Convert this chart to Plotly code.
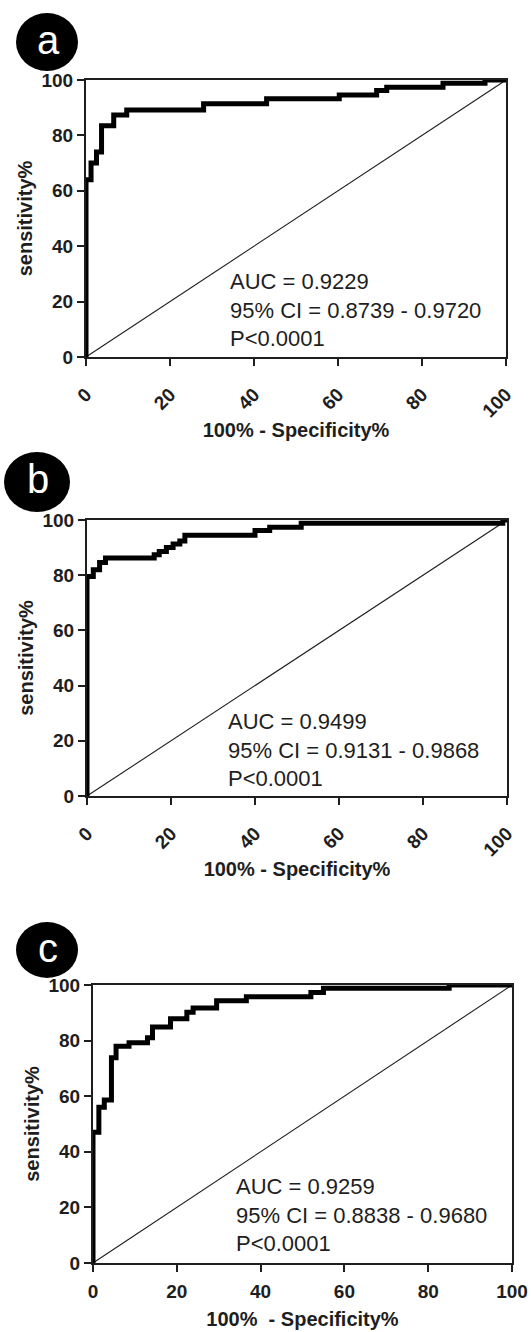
import plotly.graph_objects as go

# ---------------- data (ROC vertices: 100% - specificity, sensitivity) -------------
fpr_a = [0, 0, 1.2, 2.5, 3.7, 6.6, 9.7, 28.0, 43.0, 60.3, 69.2, 71.6, 85.0, 95.0, 100]
tpr_a = [0, 64, 70, 74, 83.5, 87.4, 89.2, 91.4, 93.2, 94.6, 96.2, 97.4, 98.8, 100, 100]

fpr_b = [0, 0, 1.5, 3.0, 4.4, 16.0, 17.2, 18.9, 20.5, 22.1, 23.3, 40.0, 43.5, 51.0, 99.0, 100]
tpr_b = [0, 79.5, 82, 84.6, 86.2, 87.4, 88.6, 90.0, 91.3, 92.4, 94.5, 96.2, 97.4, 98.8, 100, 100]

fpr_c = [0, 0, 1.4, 2.7, 4.4, 5.5, 8.6, 13.0, 14.2, 18.5, 22.4, 23.9, 29.5, 36.6, 52.0, 55.0, 85.0, 100]
tpr_c = [0, 47, 56, 58.6, 73.8, 78, 79.2, 81, 84.9, 87.9, 90.2, 91.7, 94.3, 95.8, 97.3, 98.8, 100, 100]

ref_line = [0, 100]

panel_letters = ["a", "b", "c"]
auc_texts = [
    "AUC = 0.9229<br>95% CI = 0.8739 - 0.9720<br>P<0.0001",
    "AUC = 0.9499<br>95% CI = 0.9131 - 0.9868<br>P<0.0001",
    "AUC = 0.9259<br>95% CI = 0.8838 - 0.9680<br>P<0.0001",
]
tick_vals = [0, 20, 40, 60, 80, 100]
tick_text = ["0", "20", "40", "60", "80", "100"]
x_title = "100% - Specificity%"
y_title = "sensitivity%"

# ---------------- layout geometry ----------------
W, H = 531, 1332
def px_x(p):
    return p / W
def px_y(p):
    return 1 - p / H

panels = [
    dict(fpr=fpr_a, tpr=tpr_a, x0=86, x1=506, y0=80, y1=357, rot=True,
         badge=(47, 42, 31, 29), letter_y=40, text_x=33.8, text_y=17.0),
    dict(fpr=fpr_b, tpr=tpr_b, x0=87, x1=507, y0=520, y1=796, rot=True,
         badge=(37, 482, 33, 30), letter_y=479, text_x=33.0, text_y=16.7),
    dict(fpr=fpr_c, tpr=tpr_c, x0=93, x1=512, y0=985, y1=1263, rot=False,
         badge=(47, 950, 31, 28), letter_y=948, text_x=33.7, text_y=17.3),
]

FONT = "Liberation Sans, Arial, sans-serif"
INK = "#1e1e1e"

fig = go.Figure()
shapes = []
annotations = []

for i, p in enumerate(panels):
    n = "" if i == 0 else str(i + 1)
    xa, ya = "x" + n, "y" + n
    fig.add_trace(go.Scatter(x=ref_line, y=ref_line, mode="lines",
                             line=dict(color=INK, width=1.1),
                             xaxis=xa, yaxis=ya, showlegend=False, hoverinfo="skip"))
    fig.add_trace(go.Scatter(x=p["fpr"], y=p["tpr"], mode="lines",
                             line=dict(color="#000000", width=5, shape="hv"),
                             xaxis=xa, yaxis=ya, showlegend=False))
    common = dict(range=[0, 100], showgrid=False, zeroline=False, automargin=False,
                  showline=True, linecolor=INK, linewidth=2, mirror=True,
                  ticks="outside", ticklen=7, tickwidth=2, tickcolor=INK,
                  tickvals=tick_vals, ticktext=tick_text,
                  tickfont=dict(family=FONT, size=19, color=INK, weight="bold"),
                  fixedrange=True)
    fig.update_layout(**{
        "xaxis" + n: dict(common, domain=[px_x(p["x0"]), px_x(p["x1"])],
                          anchor=ya, tickangle=-45 if p["rot"] else 0,
                          ticklabelstandoff=10 if p["rot"] else 3,
                          title=dict(text=x_title if i < 2 else "100% \u00a0- Specificity%",
                                     font=dict(family=FONT, size=20, color=INK, weight="bold"),
                                     standoff=3 if p["rot"] else 11)),
        "yaxis" + n: dict(common, domain=[px_y(p["y1"]), px_y(p["y0"])],
                          anchor=xa,
                          title=dict(text=y_title,
                                     font=dict(family=FONT, size=20, color=INK, weight="bold"),
                                     standoff=3)),
    })
    cx, cy, rx, ry = p["badge"]
    shapes.append(dict(type="circle", xref="paper", yref="paper",
                       xsizemode="pixel", ysizemode="pixel",
                       xanchor=px_x(cx), yanchor=px_y(cy),
                       x0=-rx, x1=rx, y0=-ry, y1=ry,
                       fillcolor="#000000", line=dict(color="#000000", width=0)))
    annotations.append(dict(text=panel_letters[i], xref="paper", yref="paper",
                            x=px_x(cx + 1), y=px_y(p["letter_y"]),
                            xanchor="center", yanchor="middle", showarrow=False,
                            font=dict(family=FONT, size=40, color="#ffffff")))
    annotations.append(dict(text=auc_texts[i], xref=xa, yref=ya,
                            x=p["text_x"], y=p["text_y"], xanchor="left", yanchor="middle",
                            align="left", showarrow=False,
                            font=dict(family=FONT, size=22, color=INK)))

fig.update_layout(width=W, height=H, margin=dict(l=0, r=0, t=0, b=0, autoexpand=False),
                  paper_bgcolor="white", plot_bgcolor="white",
                  shapes=shapes, annotations=annotations, showlegend=False)

fig.write_html("out.html")
